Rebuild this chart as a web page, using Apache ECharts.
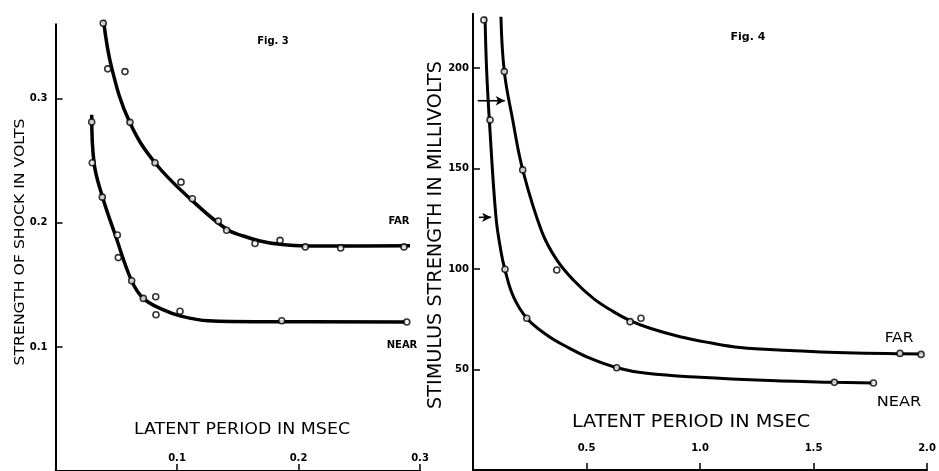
<!DOCTYPE html>
<html>
<head>
<meta charset="utf-8">
<script src="https://cdn.jsdelivr.net/npm/echarts@6/dist/echarts.min.js"></script>
<style>html,body{margin:0;padding:0;background:#fff}#c{width:939px;height:471px}</style>
</head>
<body>
<div id="c"></div>
<script>
// ---------- Fig. 3 data (latent period ms, strength V) ----------
const fig3FarX = [0.0393,0.0430,0.0572,0.0613,0.0819,0.1033,0.1126,0.1340,0.1409,0.1642,0.1848,0.2056,0.2347,0.2868];
const fig3FarY = [0.3608,0.3241,0.3219,0.2810,0.2484,0.2328,0.2194,0.2014,0.1940,0.1833,0.1859,0.1806,0.1798,0.1806];
const fig3NearX = [0.0298,0.0303,0.0385,0.0509,0.0517,0.0627,0.0723,0.0825,0.0827,0.1025,0.1862,0.2891];
const fig3NearY = [0.2813,0.2484,0.2207,0.1902,0.1720,0.1533,0.1391,0.1404,0.1259,0.1287,0.1211,0.1201];
const fig3FarCurveX = [0.0395,0.0463,0.0607,0.0819,0.1123,0.1409,0.1546,0.1683,0.1848,0.2067,0.2342,0.2918];
const fig3FarCurveY = [0.3635,0.3247,0.2818,0.2484,0.2181,0.1948,0.1894,0.1854,0.1827,0.1814,0.1814,0.1815];
const fig3NearCurveX = [0.0298,0.0317,0.0385,0.0490,0.0627,0.0723,0.0874,0.1039,0.1258,0.1724,0.2885];
const fig3NearCurveY = [0.2871,0.2484,0.2215,0.1908,0.1532,0.1391,0.1305,0.1247,0.1211,0.1203,0.1201];
const fig3XTicks = [0.1,0.2,0.3];
const fig3YTicks = [0.1,0.2,0.3];

// ---------- Fig. 4 data (latent period ms, stimulus mV) ----------
const fig4FarX = [0.138,0.219,0.369,0.692,0.740,1.881,1.974];
const fig4FarY = [198.2,149.3,99.5,73.8,75.5,58.0,57.5];
const fig4NearX = [0.048,0.075,0.141,0.237,0.633,1.592,1.764];
const fig4NearY = [223.9,174.1,99.9,75.5,50.9,43.6,43.3];
const fig4FarCurveX = [0.123,0.138,0.175,0.219,0.303,0.369,0.442,0.530,0.618,0.692,0.780,0.912,1.044,1.176,1.396,1.602,1.984];
const fig4FarCurveY = [225.5,198.2,174.1,149.3,118.6,104.5,94.5,85.4,78.8,74.3,70.5,66.3,63.3,61.0,59.5,58.4,57.7];
const fig4NearCurveX = [0.053,0.060,0.072,0.101,0.122,0.141,0.178,0.237,0.325,0.413,0.515,0.633,0.765,1.000,1.308,1.592,1.764];
const fig4NearCurveY = [225.5,199.0,174.1,126.0,109.5,99.5,86.2,75.5,67.2,61.3,55.6,50.9,48.1,46.1,44.5,43.6,43.3];
const fig4ArrowY = [183.7,125.7];
const fig4ArrowX0 = [0.021,0.026];
const fig4ArrowX1 = [0.140,0.080];
const fig4XTicks = [0.5,1.0,1.5,2.0];
const fig4YTicks = [50,100,150,200];

const zip = (a,b) => a.map((v,i)=>[v,b[i]]);
const FONT = 'DejaVu Sans';
const K = '#000';

function curve(x,y,ax,w){
  return {type:'line', xAxisIndex:ax, yAxisIndex:ax, data:zip(x,y), smooth:0.4, showSymbol:false, clip:false,
    lineStyle:{color:K,width:w}, z:2, silent:true};
}
function pts(x,y,ax){
  return {type:'scatter', xAxisIndex:ax, yAxisIndex:ax, data:zip(x,y), symbol:'circle', symbolSize:6, clip:false,
    itemStyle:{color:'#fff',borderColor:K,borderWidth:1.6}, z:5, silent:true};
}
function arrow(i){
  return {type:'line', xAxisIndex:1, yAxisIndex:1, silent:true, clip:false, z:3,
    data:[[fig4ArrowX0[i],fig4ArrowY[i]],[fig4ArrowX1[i],fig4ArrowY[i]]],
    showSymbol:true, showAllSymbol:true,
    symbol:(v,p)=>p.dataIndex===1?'arrow':'none', symbolSize:[7,9], symbolRotate:-90,
    itemStyle:{color:K}, lineStyle:{color:K,width:1.6}};
}
function txt(t,x,y,size,weight,rot,sx){
  return {type:'text', x:x, y:y, rotation:rot||0, scaleX:sx||1, silent:true,
    style:{text:t, x:0, y:0, align:'center', verticalAlign:'middle', font:(weight||'normal')+' '+size+'px "'+FONT+'"', fill:K}};
}

const chart = echarts.init(document.getElementById('c'), null, {renderer:'canvas'});

chart.setOption({
  animation:false,
  backgroundColor:'#fff',
  grid:[
    {left:55.5, top:24.3, width:364.5, height:448.2},
    {left:473, top:13.7, width:454, height:456.3}
  ],
  xAxis:[
    {gridIndex:0, type:'value', min:0, max:0.3, splitLine:{show:false},
     axisLine:{show:true, lineStyle:{color:K,width:2}},
     axisTick:{show:true, inside:true, length:7, lineStyle:{color:K,width:1.5}, customValues:fig3XTicks},
     axisLabel:{inside:true, margin:8, color:K, fontFamily:FONT, fontWeight:'bold', fontSize:10, customValues:fig3XTicks,
       formatter:v=>v.toFixed(1)}},
    {gridIndex:1, type:'value', min:0, max:2.0, splitLine:{show:false},
     axisLine:{show:true, lineStyle:{color:K,width:2}},
     axisTick:{show:true, inside:true, length:7, lineStyle:{color:K,width:1.5}, customValues:fig4XTicks},
     axisLabel:{inside:true, margin:17, color:K, fontFamily:FONT, fontWeight:'bold', fontSize:10, customValues:fig4XTicks,
       formatter:v=>v.toFixed(1)}}
  ],
  yAxis:[
    {gridIndex:0, type:'value', min:0, max:0.36, splitLine:{show:false},
     axisLine:{show:true, lineStyle:{color:K,width:2}},
     axisTick:{show:true, inside:true, length:7, lineStyle:{color:K,width:1.5}, customValues:fig3YTicks},
     axisLabel:{margin:8, color:K, fontFamily:FONT, fontWeight:'bold', fontSize:10, customValues:fig3YTicks,
       formatter:v=>v.toFixed(1)}},
    {gridIndex:1, type:'value', min:0, max:227, splitLine:{show:false},
     axisLine:{show:true, lineStyle:{color:K,width:2}},
     axisTick:{show:true, inside:true, length:7, lineStyle:{color:K,width:1.5}, customValues:fig4YTicks},
     axisLabel:{margin:4, color:K, fontFamily:FONT, fontWeight:'bold', fontSize:10, customValues:fig4YTicks,
       formatter:v=>String(v)}}
  ],
  series:[
    curve(fig3FarCurveX, fig3FarCurveY, 0, 3.5),
    curve(fig3NearCurveX, fig3NearCurveY, 0, 3.5),
    pts(fig3FarX, fig3FarY, 0),
    pts(fig3NearX, fig3NearY, 0),
    curve(fig4FarCurveX, fig4FarCurveY, 1, 3),
    curve(fig4NearCurveX, fig4NearCurveY, 1, 3),
    pts(fig4FarX, fig4FarY, 1),
    pts(fig4NearX, fig4NearY, 1),
    arrow(0),
    arrow(1)
  ],
  graphic:[
    txt('Fig. 3', 273, 41, 10, 'bold'),
    txt('Fig. 4', 748, 37, 11, 'bold'),
    txt('STRENGTH OF SHOCK IN VOLTS', 20, 242, 14, 'normal', Math.PI/2, 1.12),
    txt('STIMULUS STRENGTH IN MILLIVOLTS', 436, 235, 20, 'normal', Math.PI/2, 0.96),
    txt('LATENT PERIOD IN MSEC', 242, 430, 16, 'normal', 0, 1.09),
    txt('LATENT PERIOD IN MSEC', 691, 423, 17, 'normal', 0, 1.13),
    txt('FAR', 399, 221, 10, 'bold'),
    txt('NEAR', 402, 345, 10, 'bold'),
    txt('FAR', 899, 338, 14, 'normal', 0, 1.1),
    txt('NEAR', 899, 402, 14, 'normal', 0, 1.15)
  ]
});
</script>
</body>
</html>
